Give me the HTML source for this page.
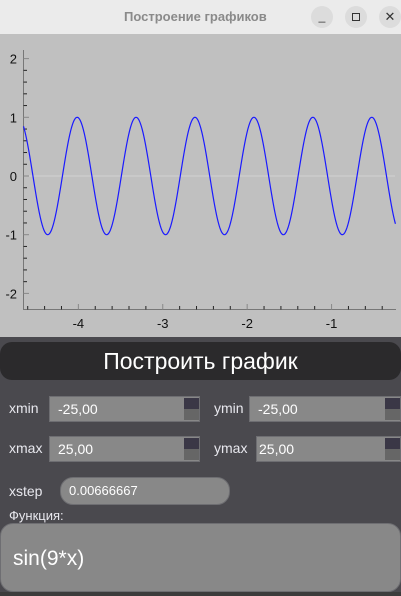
<!DOCTYPE html>
<html><head><meta charset="utf-8"><style>
*{margin:0;padding:0;box-sizing:border-box}
body{width:401px;height:596px;overflow:hidden;background:#4a494e;font-family:"Liberation Sans","DejaVu Sans",sans-serif;position:relative}
.abs{position:absolute}
.lbl{color:#e8e8ee;font-size:14px}
.field{background:#888;border:1px solid #6e6e72;color:#fff;font-size:14px;padding-left:8px;line-height:24px}
.spin{position:absolute;right:0;top:1px;width:15px;height:22px}
.spin div{height:11px}
</style></head><body>
<div class="abs" style="left:0;top:0;width:401px;height:34px;background:#ebebeb">
 <div class="abs" style="left:124px;top:9px;font-size:13px;font-weight:bold;color:#8a8a8a">Построение графиков</div>
 <div class="abs" style="left:311px;top:6px;width:22px;height:22px;border-radius:11px;background:#dcdcdc;text-align:center;font-size:12px;line-height:20px;color:#333">_</div>
 <div class="abs" style="left:345px;top:6px;width:22px;height:22px;border-radius:11px;background:#dcdcdc"><div class="abs" style="left:7px;top:7px;width:8px;height:8px;border:1.3px solid #333"></div></div>
 <div class="abs" style="left:379px;top:6px;width:22px;height:22px;border-radius:11px;background:#dcdcdc;text-align:center;font-size:13px;line-height:22px;color:#333">✕</div>
</div>
<svg class="abs" style="left:0;top:34px" width="401" height="303" id="plot"></svg>
<div class="abs" style="left:0;top:342px;width:401px;height:38px;background:#2b2a2c;border-radius:12px;color:#fff;font-size:23px;text-align:center;line-height:38px">Построить график</div>
<div class="abs lbl" style="left:9px;top:400px">xmin</div>
<div class="abs field" style="left:49px;top:396px;width:151px;height:26px">-25,00<div class="spin"><div style="background:#3a3746"></div><div style="background:#666"></div></div></div>
<div class="abs lbl" style="left:214px;top:400px">ymin</div>
<div class="abs field" style="left:249px;top:396px;width:152px;height:26px">-25,00<div class="spin"><div style="background:#3a3746"></div><div style="background:#666"></div></div></div>
<div class="abs lbl" style="left:9px;top:440px">xmax</div>
<div class="abs field" style="left:49px;top:436px;width:151px;height:26px">25,00<div class="spin"><div style="background:#3a3746"></div><div style="background:#666"></div></div></div>
<div class="abs lbl" style="left:214px;top:440px">ymax</div>
<div class="abs field" style="left:256px;top:436px;width:145px;height:26px;padding-left:2px">25,00<div class="spin"><div style="background:#3a3746"></div><div style="background:#666"></div></div></div>
<div class="abs lbl" style="left:9px;top:483px">xstep</div>
<div class="abs field" style="left:60px;top:477px;width:170px;height:28px;border-radius:13px;line-height:26px;font-size:13px">0.00666667</div>
<div class="abs lbl" style="left:9px;top:508px;font-size:13px">Функция:</div>
<div class="abs field" style="left:0;top:523px;width:401px;height:69px;border-radius:13px;font-size:21px;line-height:69px;padding-left:12px">sin(9*x)</div>
<div class="abs" style="left:0;top:592px;width:401px;height:4px;background:#3c3c3c"></div>
<script>
const xTicks=[-4,-3,-2,-1];
const yTicks=[-2,-1,0,1,2];
const xRange=[-4.65,-0.24];
const yRange=[-2.1,2.1];
const funcText="sin(9*x)";
const step=0.00666667;
const f=x=>Math.sin(9*x);
const svg=document.getElementById('plot');
const NS='http://www.w3.org/2000/svg';
const X=v=>23.5+(v-xRange[0])*84.4;
const Y=v=>142-v*58.7;
function el(t,a){const e=document.createElementNS(NS,t);for(const k in a)e.setAttribute(k,a[k]);svg.appendChild(e);return e;}
const bg=el('rect',{x:0,y:0,width:401,height:303,fill:'#c0c0c0'});


const zl=el('line',{x1:24,x2:395,y1:Y(0),y2:Y(0),stroke:'#d2d2d2','stroke-width':1});


const ya=el('line',{x1:23.5,x2:23.5,y1:16,y2:276,stroke:'#777'});


const xa=el('line',{x1:23,x2:396,y1:275.5,y2:275.5,stroke:'#777'});


for(let v=-2;v<=2.001;v+=0.2){const y=Y(v);const major=Math.abs(v-Math.round(v))<1e-6;el('line',{x1:23.5,x2:major?29:27,y1:y,y2:y,stroke:major?'#888':'#222'});}
for(let v=Math.ceil(xRange[0]*5)/5;v<=xRange[1];v+=0.2){const x=X(v);const major=Math.abs(v-Math.round(v))<1e-6;el('line',{x1:x,x2:x,y1:275.5,y2:major?270:272,stroke:major?'#888':'#222'});}
yTicks.forEach(v=>{const t=el('text',{x:17,y:Y(v)+5,'text-anchor':'end','font-size':13,fill:'#111','font-family':'Liberation Sans, sans-serif'});t.textContent=v;});
xTicks.forEach(v=>{const t=el('text',{x:X(v),y:294,'text-anchor':'middle','font-size':13,fill:'#111','font-family':'Liberation Sans, sans-serif'});t.textContent=v;});
let d='';for(let x=xRange[0];x<=xRange[1];x+=step){d+=(d?'L':'M')+X(x).toFixed(2)+','+Y(f(x)).toFixed(2);}
const p=el('path',{d:d,fill:'none',stroke:'#1a1aff','stroke-width':1.2});


</script>
</body></html>
